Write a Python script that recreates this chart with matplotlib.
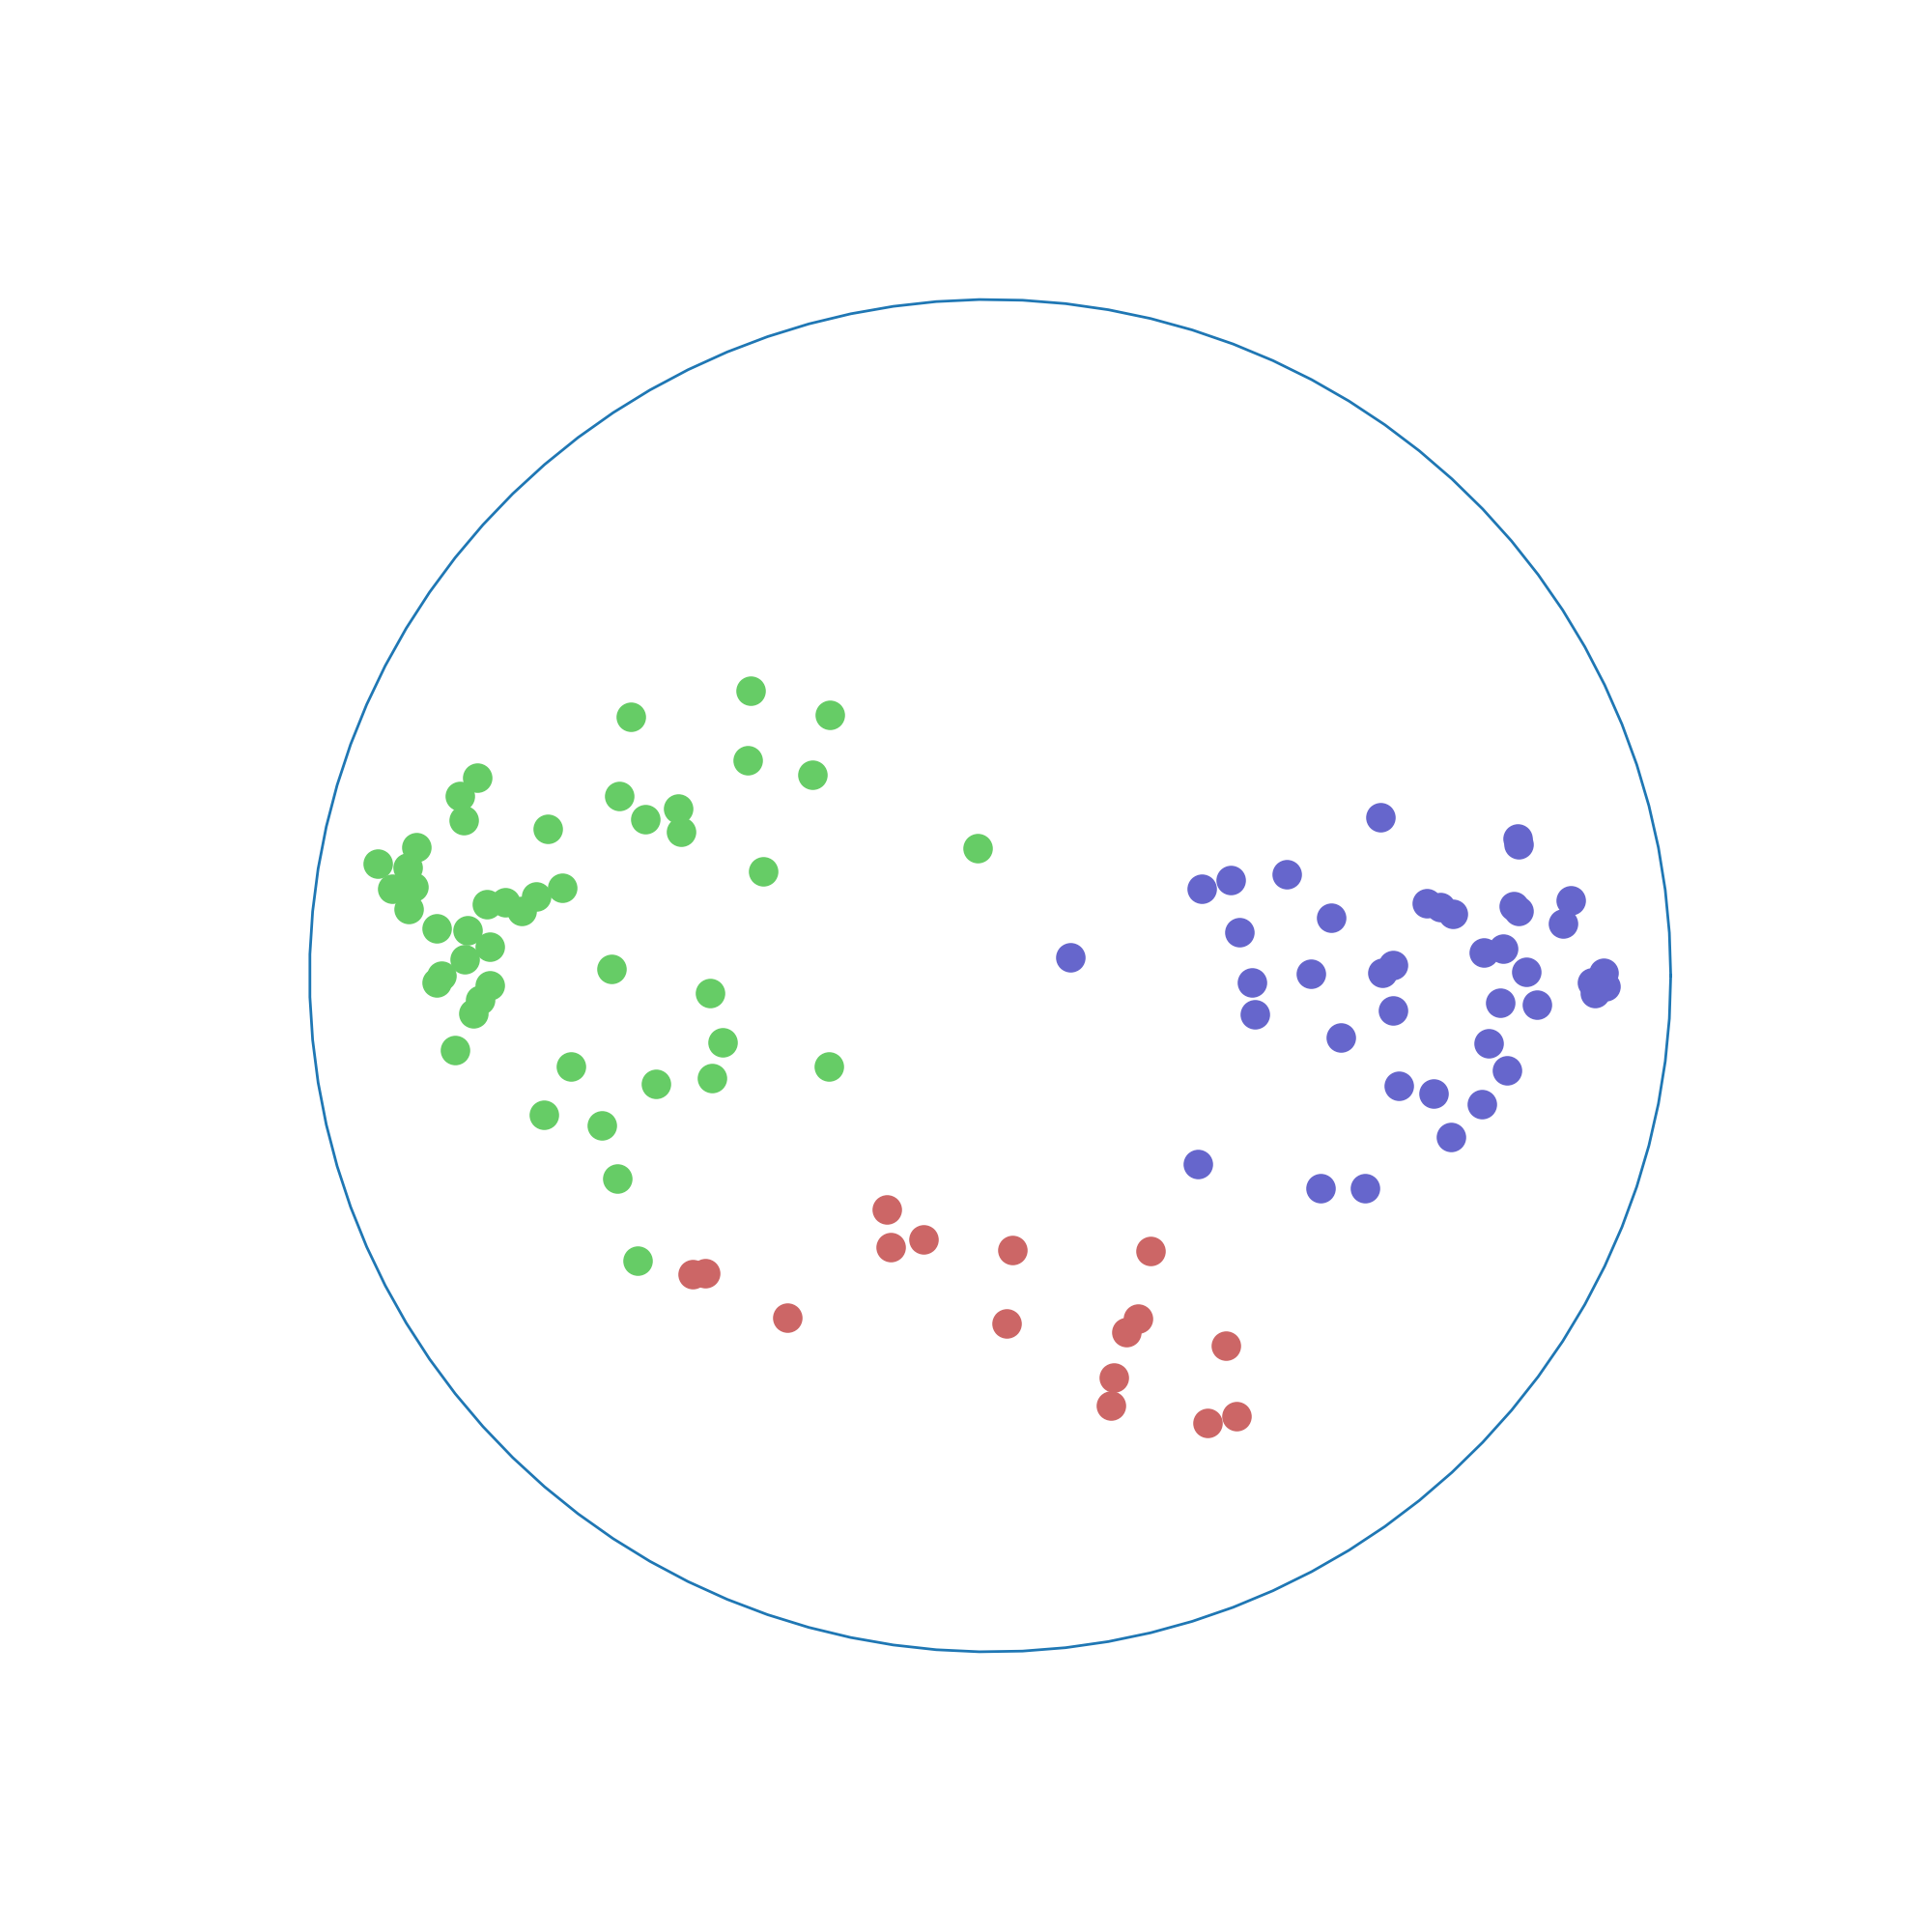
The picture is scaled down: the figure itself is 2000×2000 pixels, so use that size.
import numpy as np
import matplotlib
matplotlib.use("Agg")
import matplotlib.pyplot as plt

# points in the unit disk, one list per group
green_x = [-0.352, -0.236, -0.528, -0.356, -0.261, -0.545, -0.458, -0.507, -0.454, -0.650,
           -0.334, -0.019, -0.754, -0.779, -0.774, -0.843, -0.900, -0.856, -0.879, -0.847,
           -0.855, -0.813, -0.768, -0.740, -0.713, -0.688, -0.667, -0.629, -0.735, -0.772,
           -0.806, -0.813, -0.735, -0.749, -0.759, -0.786, -0.556, -0.412, -0.393, -0.409,
           -0.237, -0.616, -0.491, -0.656, -0.571, -0.548, -0.518]
green_y = [0.421, 0.386, 0.383, 0.319, 0.297, 0.266, 0.247, 0.231, 0.213, 0.217,
           0.154, 0.189, 0.293, 0.266, 0.230, 0.190, 0.166, 0.160, 0.129, 0.131,
           0.099, 0.070, 0.067, 0.106, 0.109, 0.096, 0.117, 0.130, 0.043, 0.024,
           0.000, -0.010, -0.014, -0.036, -0.056, -0.110, 0.010, -0.026, -0.099, -0.151,
           -0.134, -0.134, -0.160, -0.206, -0.221, -0.300, -0.421]

blue_x = [0.573, 0.775, 0.776, 0.311, 0.353, 0.436, 0.501, 0.366, 0.385, 0.389,
          0.471, 0.515, 0.576, 0.592, 0.592, 0.642, 0.661, 0.680, 0.769, 0.776,
          0.853, 0.842, 0.725, 0.754, 0.788, 0.749, 0.803, 0.901, 0.884, 0.904,
          0.889, 0.732, 0.759, 0.600, 0.652, 0.723, 0.677, 0.305, 0.485, 0.551,
          0.118]
blue_y = [0.234, 0.203, 0.194, 0.129, 0.141, 0.150, 0.086, 0.064, -0.010, -0.057,
          0.003, -0.091, 0.004, 0.016, -0.051, 0.107, 0.101, 0.091, 0.103, 0.096,
          0.111, 0.077, 0.034, 0.040, 0.006, -0.040, -0.043, 0.004, -0.010, -0.016,
          -0.026, -0.100, -0.140, -0.163, -0.174, -0.190, -0.239, -0.279, -0.314, -0.314,
          0.027]

red_x = [-0.152, -0.146, -0.098, 0.033, 0.236, -0.437, -0.419, -0.298, 0.024, 0.217,
         0.200, 0.347, 0.182, 0.178, 0.320, 0.362]
red_y = [-0.346, -0.401, -0.390, -0.406, -0.407, -0.441, -0.440, -0.506, -0.514, -0.507,
         -0.527, -0.547, -0.594, -0.635, -0.662, -0.652]

fig = plt.figure(figsize=(10, 10), dpi=200)
ax = plt.gca()

theta = np.linspace(0, 2 * np.pi, 100)
ax.plot(np.cos(theta), np.sin(theta), color="#1f77b4", lw=1.0)

ax.scatter(green_x, green_y, s=100, color="#66cc66")
ax.scatter(blue_x, blue_y, s=100, color="#6666cc")
ax.scatter(red_x, red_y, s=100, color="#cc6666")

ax.set_xlim(-1.1, 1.1)
ax.set_ylim(-1.1, 1.1)
ax.axis("off")

plt.savefig("out.png", dpi=200)
